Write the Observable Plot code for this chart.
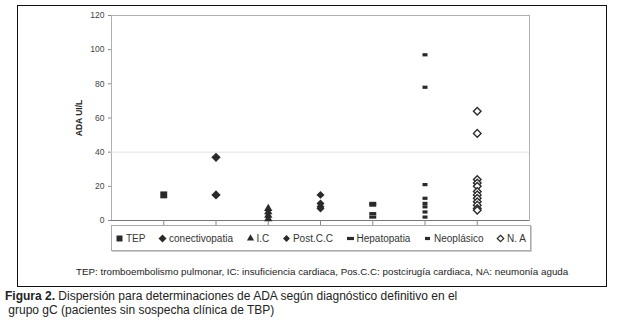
<!DOCTYPE html>
<html><head><meta charset="utf-8">
<script src="https://cdn.jsdelivr.net/npm/d3@7"></script>
<script src="https://cdn.jsdelivr.net/npm/@observablehq/plot@0.6"></script>
<style>
body{margin:0;background:#fff;font-family:"Liberation Sans",Arial,sans-serif;}
#wrap{position:relative;width:625px;height:324px;overflow:hidden;background:#fff;}
#box{position:absolute;left:17px;top:5px;width:588px;height:280px;border:1.5px solid #111;}
#chart{position:absolute;left:0;top:0;}
#legend{position:absolute;left:111px;top:225px;width:420px;height:26px;border:1px solid #aaa;box-shadow:1px 1px 0 #ccc;display:flex;align-items:center;justify-content:space-between;padding:0 4px 0 3px;box-sizing:border-box;font-size:10px;color:#333;}
#legend span{display:flex;align-items:center;white-space:nowrap;}
#legend svg{margin-right:2px;}
#note{position:absolute;left:76px;top:266px;font-size:9.8px;color:#222;white-space:nowrap;}
#fig{position:absolute;left:5px;top:289px;font-size:12px;line-height:14px;color:#222;white-space:nowrap;}
</style></head>
<body>
<div id="wrap">
  <div id="box"></div>
  <div id="legend"></div>
  <div id="note">TEP: tromboembolismo pulmonar, IC: insuficiencia cardiaca, Pos.C.C: postcirugía cardiaca, NA: neumonía aguda</div>
  <div id="fig"><b>Figura 2.</b> Dispersión para determinaciones de ADA según diagnóstico definitivo en el<br>&nbsp;grupo gC (pacientes sin sospecha clínica de TBP)</div>
  <div id="chart"></div>
</div>
<script>
const categories = ["TEP", "conectivopatia", "I.C", "Post.C.C", "Hepatopatia", "Neoplásico", "N. A"];
const tep = [15];
const conectivopatia = [37, 15];
const ic = [7, 5, 3, 1];
const postcc = [15, 10, 8, 7];
const hepatopatia = [10, 9, 4, 2];
const neoplasico = [97, 78, 21, 13, 10, 8, 5, 2];
const na = [64, 51, 24, 22, 20, 17, 15, 13, 11, 9, 7, 6];
const yTicks = [0, 20, 40, 60, 80, 100, 120];

const dark = "#2a2a2a";
const dashWide = {draw(c){ c.rect(-3.5, -1.6, 7, 3.2); }};
const dashSmall = {draw(c){ c.rect(-2.5, -1.6, 5, 3.2); }};

const series = [
  {name: categories[0], values: tep, symbol: "square", r: 3.9, fill: dark, stroke: "none"},
  {name: categories[1], values: conectivopatia, symbol: "diamond2", r: 4.2, fill: dark, stroke: "none"},
  {name: categories[2], values: ic, symbol: "triangle", r: 3.1, fill: dark, stroke: "none"},
  {name: categories[3], values: postcc, symbol: "diamond2", r: 3.6, fill: dark, stroke: "none"},
  {name: categories[4], values: hepatopatia, symbol: dashWide, r: 3, fill: dark, stroke: "none"},
  {name: categories[5], values: neoplasico, symbol: dashSmall, r: 3, fill: dark, stroke: "none"},
  {name: categories[6], values: na, symbol: "diamond2", r: 3.4, fill: "white", stroke: dark}
];

const marks = [
  Plot.frame({stroke: "#b0b0b0"}),
  Plot.ruleY([40], {stroke: "#e2e2e2"}),
  Plot.ruleY([0], {stroke: "#777"}),
  Plot.axisX({ticks: d3.range(1, categories.length + 1), tickSize: 5, tickFormat: () => "", stroke: "#888", label: null}),
  Plot.axisY({ticks: yTicks, tickSize: 3, tickPadding: 4, fontSize: 8.5, fill: "#444", stroke: "#888",
    label: "ADA UI/L", labelAnchor: "center", labelArrow: "none", labelOffset: 36})
];
series.forEach((s, i) => {
  marks.push(Plot.dot(s.values.map(v => ({x: i + 1, y: v})), {
    x: "x", y: "y", symbol: () => s.symbol, r: s.r, fill: s.fill, stroke: s.stroke, strokeWidth: 1.4
  }));
});

const chart = Plot.plot({
  width: 625, height: 226,
  marginLeft: 111, marginRight: 96, marginTop: 15, marginBottom: 6,
  style: {fontFamily: "'Liberation Sans', Arial, sans-serif", background: "transparent", overflow: "visible"},
  x: {domain: [0, 8], axis: null, label: null},
  y: {domain: [0, 120], axis: null},
  symbol: {type: "identity"},
  marks
});
chart.querySelectorAll("g[aria-label='y-axis label'] text").forEach(t => { t.setAttribute("font-weight", "bold"); t.setAttribute("fill", "#222"); t.setAttribute("font-size", "8.5"); });
document.getElementById("chart").appendChild(chart);

// legend
const leg = document.getElementById("legend");
series.forEach(s => {
  const span = document.createElement("span");
  const svg = d3.create("svg").attr("width", 9).attr("height", 9).attr("viewBox", "-4.5 -4.5 9 9");
  const type = typeof s.symbol === "string" ? ({square: d3.symbolSquare, diamond2: d3.symbolDiamond2, triangle: d3.symbolTriangle})[s.symbol] : s.symbol;
  svg.append("path").attr("d", d3.symbol(type, Math.PI * s.r * s.r * 0.75)()).attr("fill", s.fill).attr("stroke", s.stroke).attr("stroke-width", 1.2);
  span.appendChild(svg.node());
  span.appendChild(document.createTextNode(s.name));
  leg.appendChild(span);
});
</script>
</body></html>
